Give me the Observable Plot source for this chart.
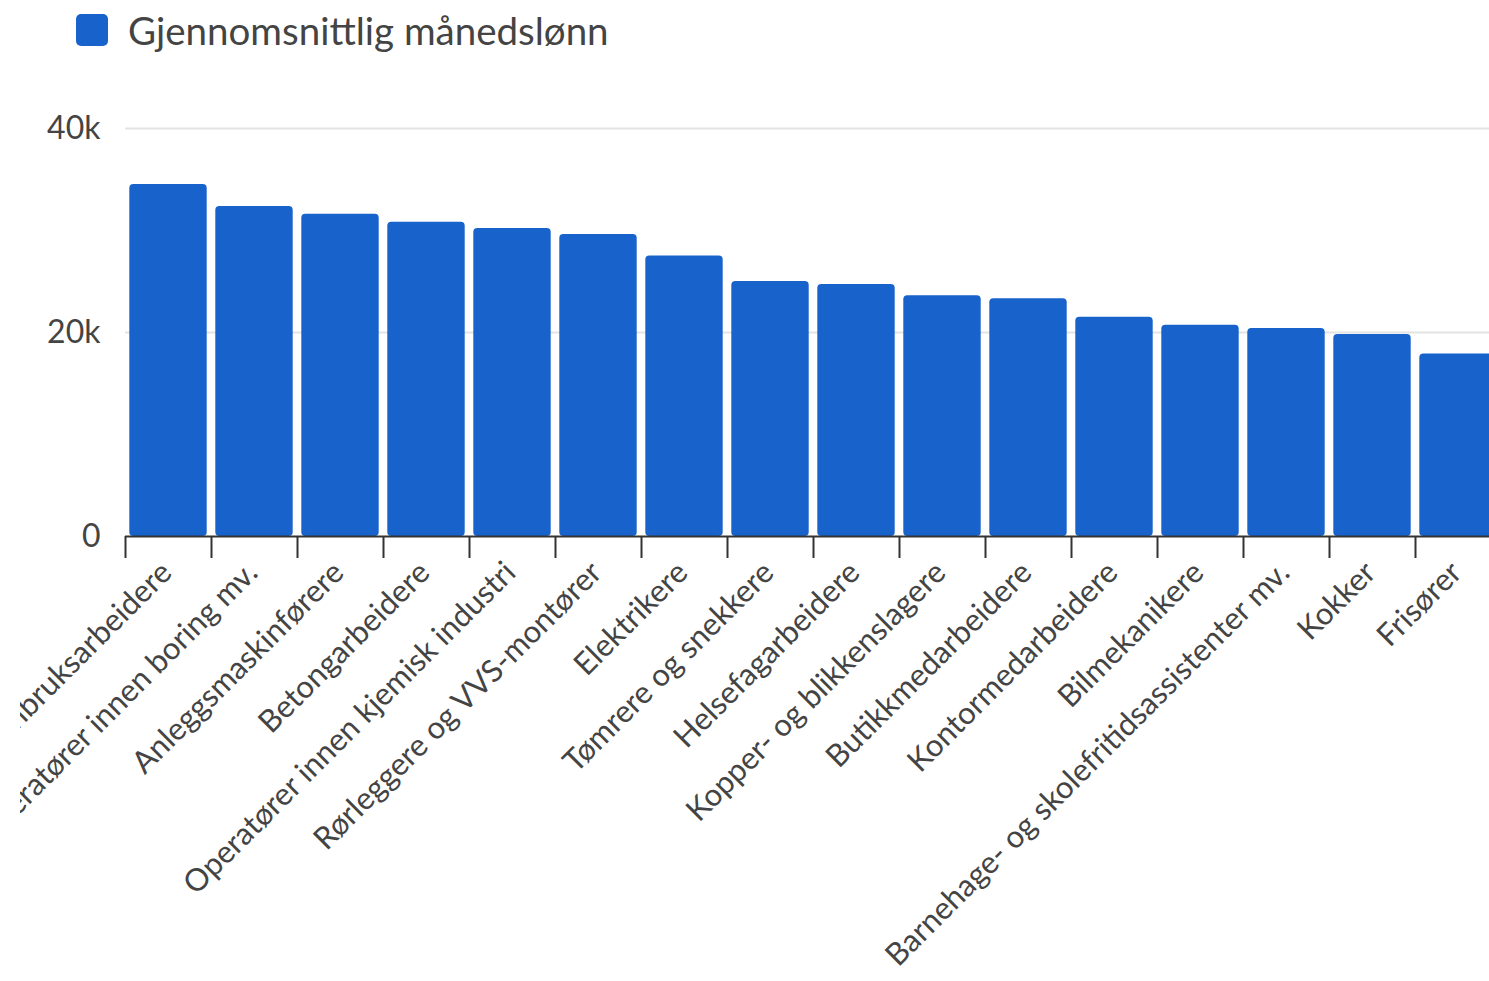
<!DOCTYPE html>
<html>
<head>
<meta charset="utf-8">
<script src="https://cdn.jsdelivr.net/npm/d3@7"></script>
<script src="https://cdn.jsdelivr.net/npm/@observablehq/plot@0.6"></script>
<style>
  html, body { margin: 0; padding: 0; background: #fff; overflow: hidden; }
  body { width: 1489px; height: 981px; font-family: Lato, "Open Sans", sans-serif; }
  #legend { position: relative; height: 80px; }
  #legend .sw { position: absolute; left: 76px; top: 14px; width: 32px; height: 32px; border-radius: 5px; background: #1862cc; }
  #legend .lb { position: absolute; left: 128px; top: 6px; font-size: 38.5px; line-height: 48px; color: #444; white-space: nowrap; }
  #chart svg { clip-path: inset(0 0 0 20px); overflow: hidden; }
</style>
</head>
<body>
<div id="legend"><div class="sw"></div><div class="lb">Gjennomsnittlig månedslønn</div></div>
<div id="chart"></div>
<script>
const seriesName = "Gjennomsnittlig månedslønn";
const categories = [
  "Steinbruksarbeidere",
  "Operatører innen boring mv.",
  "Anleggsmaskinførere",
  "Betongarbeidere",
  "Operatører innen kjemisk industri",
  "Rørleggere og VVS-montører",
  "Elektrikere",
  "Tømrere og snekkere",
  "Helsefagarbeidere",
  "Kopper- og blikkenslagere",
  "Butikkmedarbeidere",
  "Kontormedarbeidere",
  "Bilmekanikere",
  "Barnehage- og skolefritidsassistenter mv.",
  "Kokker",
  "Frisører"
];
const values = [34500, 32350, 31600, 30800, 30200, 29600, 27500, 25000, 24700, 23600, 23300, 21500, 20700, 20400, 19800, 17900];
const yTicks = [0, 20000, 40000];
const yTickLabels = ["0", "20k", "40k"];

const data = categories.map((c, i) => ({category: c, value: values[i]}));

const W = 1489, H = 901;
const x0 = 125, x1 = 1501;
const step = (x1 - x0) / categories.length;
const blue = "#1862cc";

const chart = Plot.plot({
  width: W,
  height: H,
  marginLeft: x0,
  marginRight: 0,
  marginTop: 48,
  marginBottom: 445,
  style: {fontFamily: "Lato, 'Open Sans', sans-serif", background: "#fff", overflow: "hidden"},
  x: {domain: categories, range: [x0, x1], padding: 0.1, paddingOuter: 0.05, round: false, axis: null},
  y: {domain: [0, 40000], axis: null},
  marks: [
    Plot.gridY(yTicks.filter(d => d > 0), {stroke: "#e3e3e3", strokeOpacity: 1, strokeWidth: 2}),
    Plot.axisY(yTicks, {tickSize: 0, tickPadding: 25, fontSize: 32, fill: "#444", label: null,
      tickFormat: (d) => yTickLabels[yTicks.indexOf(d)]}),
    Plot.barY(data, {x: "category", y: "value", fill: blue, rx: 4}),
    Plot.ruleY([0], {stroke: "#333", strokeWidth: 2}),
    Plot.axisX(categories, {tickSize: 22, tickFormat: () => "", label: null, stroke: "#333", strokeWidth: 2, dx: -step / 2}),
    Plot.text(data, {x: "category", y: () => 0, text: "category", rotate: -45, textAnchor: "end",
      lineAnchor: "middle", fontSize: 31, fill: "#444", dx: -2, dy: 31})
  ]
});
document.getElementById("chart").appendChild(chart);
</script>
</body>
</html>
